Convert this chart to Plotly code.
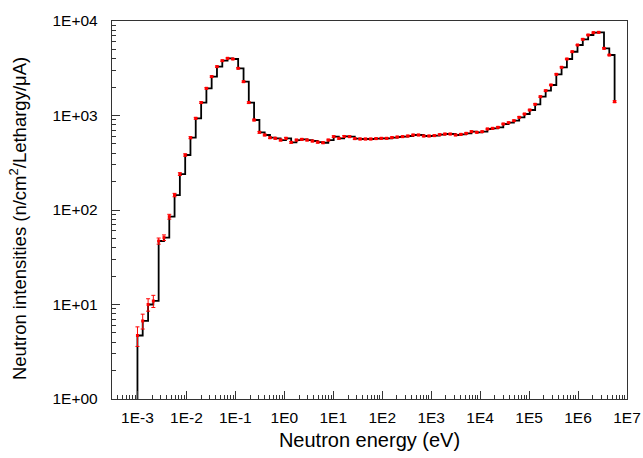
import plotly.graph_objects as go

# Energy grid (eV) (equal-lethargy points)
energy = [
    1.00e-3, 1.28e-3, 1.65e-3, 2.11e-3, 2.71e-3, 3.48e-3, 4.47e-3, 5.73e-3, 7.35e-3, 9.44e-3,
    1.21e-2, 1.55e-2, 2.00e-2, 2.56e-2, 3.28e-2, 4.21e-2, 5.41e-2, 6.93e-2, 8.89e-2, 1.14e-1,
    1.47e-1, 1.88e-1, 2.41e-1, 3.10e-1, 3.97e-1, 5.10e-1, 6.54e-1, 8.40e-1, 1.08, 1.38,
    1.77, 2.28, 2.92, 3.75, 4.81, 6.18, 7.92, 10.2, 13.0, 16.7,
    21.5, 27.5, 35.4, 45.4, 58.2, 74.8, 95.9, 123, 158, 203,
    260, 333, 428, 550, 705, 905, 1160, 1490, 1910, 2450,
    3150, 4040, 5190, 6650, 8540, 1.10e4, 1.41e4, 1.80e4, 2.31e4, 2.97e4,
    3.81e4, 4.89e4, 6.28e4, 8.05e4, 1.03e5, 1.33e5, 1.70e5, 2.18e5, 2.80e5, 3.60e5,
    4.61e5, 5.92e5, 7.60e5, 9.75e5, 1.25e6, 1.61e6, 2.06e6, 2.64e6, 3.39e6, 4.35e6,
    5.58e6,
]

# Neutron intensities (n/cm2/Lethargy/uA)
intensity = [
    4.7, 6.7, 10.0, 10.9, 47, 51, 85, 144, 240, 382,
    582, 934, 1370, 1940, 2580, 3290, 3800, 4030, 3960, 3160,
    2280, 1370, 896, 664, 622, 582, 574, 550, 574, 520,
    550, 560, 550, 537, 522, 515, 550, 597, 574, 600,
    597, 569, 564, 564, 564, 569, 574, 574, 584, 592,
    597, 607, 622, 622, 607, 607, 612, 627, 637, 637,
    622, 632, 648, 674, 664, 674, 720, 732, 750, 813,
    839, 881, 957, 1037, 1143, 1314, 1581, 1831, 2103, 2728,
    3237, 3963, 4730, 5570, 6400, 7110, 7520, 7590, 5140, 4365,
    1400,
]

# Absolute uncertainties (same units), estimated from the error bars
uncertainty = [
    1.1, 1.2, 1.5, 1.6, 3.5, 3.5, 5, 6, 8, 11,
    14, 20, 27, 35, 45, 55, 60, 60, 60, 50,
    40, 27, 18, 14, 13, 12, 12, 12, 12, 11,
    11, 11, 11, 11, 11, 11, 11, 12, 11, 12,
    12, 11, 11, 11, 11, 11, 11, 11, 11, 11,
    11, 11, 11, 11, 11, 11, 11, 11, 11, 11,
    11, 11, 11, 12, 12, 12, 13, 13, 13, 14,
    14, 15, 16, 17, 19, 21, 25, 29, 33, 42,
    50, 60, 70, 80, 95, 105, 110, 110, 80, 70,
    30,
]

# Histogram starts from zero flux at the lowest bin edge
lower_edge_energy = 1.00e-3
lower_edge_intensity = 0.1

x_tick_vals = [1e-3, 1e-2, 1e-1, 1e0, 1e1, 1e2, 1e3, 1e4, 1e5, 1e6, 1e7]
x_tick_text = ["1E-3", "1E-2", "1E-1", "1E0", "1E1", "1E2", "1E3", "1E4", "1E5", "1E6", "1E7"]
y_tick_vals = [1e0, 1e1, 1e2, 1e3, 1e4]
y_tick_text = ["1E+00", "1E+01", "1E+02", "1E+03", "1E+04"]

FONT = "Liberation Sans, Arial, sans-serif"

fig = go.Figure()

fig.add_trace(go.Scatter(
    x=[lower_edge_energy] + energy,
    y=[lower_edge_intensity] + intensity,
    mode="lines",
    line=dict(color="black", width=1.8, shape="hv"),
    hoverinfo="skip",
    showlegend=False,
))

fig.add_trace(go.Scatter(
    x=energy,
    y=intensity,
    mode="markers",
    marker=dict(color="red", size=3, symbol="square"),
    error_y=dict(type="data", array=uncertainty, visible=True,
                 color="red", thickness=1, width=2),
    showlegend=False,
))

fig.update_layout(
    width=643,
    height=458,
    margin=dict(l=112, r=16, t=21, b=59, autoexpand=False),
    paper_bgcolor="white",
    plot_bgcolor="white",
    font=dict(family=FONT, size=15.5, color="black"),
)

fig.add_annotation(
    text="Neutron intensities (n/cm<sup>2</sup>/Lethargy/μA)",
    xref="paper", yref="paper",
    x=-0.1825, y=0.476,
    xanchor="center", yanchor="middle",
    textangle=-90,
    showarrow=False,
    font=dict(family=FONT, size=18.5, color="black"),
)

fig.update_xaxes(
    type="log",
    range=[-3.52, 7.0],
    automargin=False,
    tickvals=x_tick_vals,
    ticktext=x_tick_text,
    ticks="inside",
    ticklen=8,
    tickwidth=1,
    tickcolor="#333",
    showline=True,
    linecolor="#333",
    linewidth=1.3,
    mirror=True,
    showgrid=False,
    zeroline=False,
    ticklabelstandoff=4,
    tickfont=dict(family=FONT, size=15.5),
    minor=dict(ticks="inside", ticklen=4, tickwidth=1, tickcolor="#333",
               dtick="D1", showgrid=False),
    title=dict(text="Neutron energy (eV)", font=dict(family=FONT, size=20), standoff=8),
)

fig.update_yaxes(
    type="log",
    range=[0, 4],
    automargin=False,
    tickvals=y_tick_vals,
    ticktext=y_tick_text,
    ticks="inside",
    ticklen=8,
    tickwidth=1,
    tickcolor="#333",
    showline=True,
    linecolor="#333",
    linewidth=1.3,
    mirror=True,
    showgrid=False,
    zeroline=False,
    ticklabelstandoff=10,
    tickfont=dict(family=FONT, size=15.5),
    minor=dict(ticks="inside", ticklen=4, tickwidth=1, tickcolor="#333",
               dtick="D1", showgrid=False),
)

# Remove the default page margin so the figure sits at the window's corner
fig.write_html("out.html",
               config={"displayModeBar": False},
               post_script="document.body.style.margin='0';document.body.style.overflow='hidden';")
